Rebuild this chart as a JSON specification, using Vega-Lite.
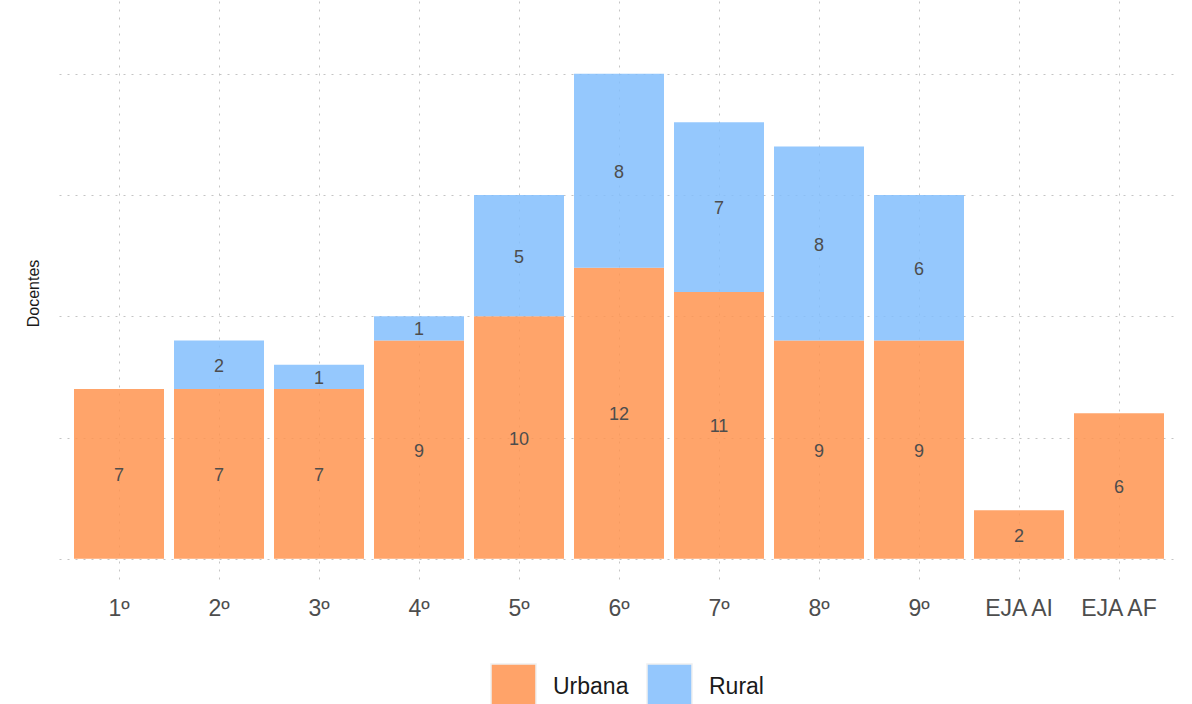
{
  "$schema": "https://vega.github.io/schema/vega-lite/v6.json",
  "width": 1120,
  "height": 582,
  "autosize": {"type": "none"},
  "padding": {"left": 59, "top": 1, "right": 13, "bottom": 121},
  "background": "white",
  "config": {
    "view": {"stroke": null},
    "font": "Liberation Sans"
  },
  "data": {
    "values": [
      {"serie": "1º", "tipo": "Urbana", "valor": 7},
      {"serie": "2º", "tipo": "Urbana", "valor": 7},
      {"serie": "2º", "tipo": "Rural", "valor": 2},
      {"serie": "3º", "tipo": "Urbana", "valor": 7},
      {"serie": "3º", "tipo": "Rural", "valor": 1},
      {"serie": "4º", "tipo": "Urbana", "valor": 9},
      {"serie": "4º", "tipo": "Rural", "valor": 1},
      {"serie": "5º", "tipo": "Urbana", "valor": 10},
      {"serie": "5º", "tipo": "Rural", "valor": 5},
      {"serie": "6º", "tipo": "Urbana", "valor": 12},
      {"serie": "6º", "tipo": "Rural", "valor": 8},
      {"serie": "7º", "tipo": "Urbana", "valor": 11},
      {"serie": "7º", "tipo": "Rural", "valor": 7},
      {"serie": "8º", "tipo": "Urbana", "valor": 9},
      {"serie": "8º", "tipo": "Rural", "valor": 8},
      {"serie": "9º", "tipo": "Urbana", "valor": 9},
      {"serie": "9º", "tipo": "Rural", "valor": 6},
      {"serie": "EJA AI", "tipo": "Urbana", "valor": 2},
      {"serie": "EJA AF", "tipo": "Urbana", "valor": 6}
    ]
  },
  "transform": [
    {"stack": "valor", "groupby": ["serie"], "sort": [{"field": "tipo", "order": "descending"}], "as": ["y0", "y1"]},
    {"calculate": "(datum.y0 + datum.y1) / 2", "as": "mid"}
  ],
  "encoding": {
    "x": {
      "field": "serie",
      "type": "nominal",
      "sort": ["1º", "2º", "3º", "4º", "5º", "6º", "7º", "8º", "9º", "EJA AI", "EJA AF"],
      "scale": {"paddingInner": 0.1, "paddingOuter": 0.15},
      "axis": {
        "title": null,
        "domain": false,
        "ticks": false,
        "labelAngle": 0,
        "labelFontSize": 23,
        "labelColor": "#4d4d4d",
        "labelPadding": 14,
        "grid": true,
        "bandPosition": 0.5,
        "gridColor": "#c4c4c4",
        "gridDash": [2, 6],
        "gridWidth": 1
      }
    }
  },
  "layer": [
    {
      "mark": {"type": "bar", "opacity": 0.85},
      "encoding": {
        "y": {
          "field": "y0",
          "type": "quantitative",
          "scale": {"domain": [-1, 23], "nice": false, "zero": false},
          "axis": {
            "title": "Docentes",
            "titleFontSize": 16,
            "titleFontWeight": "normal",
            "titleColor": "#1a1a1a",
            "titleX": -26,
            "titleY": 292,
            "titleAngle": -90,
            "titleAlign": "center",
            "titleBaseline": "middle",
            "labels": false,
            "ticks": false,
            "domain": false,
            "values": [0, 5, 10, 15, 20],
            "grid": true,
            "gridColor": "#c4c4c4",
            "gridDash": [2, 6],
            "gridWidth": 1
          }
        },
        "y2": {"field": "y1"},
        "color": {
          "field": "tipo",
          "type": "nominal",
          "scale": {"domain": ["Urbana", "Rural"], "range": ["#FF9450", "#82BEFD"]},
          "legend": {
            "title": null,
            "orient": "none",
            "direction": "horizontal",
            "legendX": 431,
            "legendY": 662,
            "padding": 0,
            "symbolType": "square",
            "symbolSize": 2025,
            "symbolStrokeColor": "#eeeeee",
            "symbolStrokeWidth": 1.5,
            "symbolOpacity": 0.85,
            "labelFontSize": 23,
            "labelColor": "#1a1a1a",
            "labelOffset": 16,
            "columnPadding": 15
          }
        }
      }
    },
    {
      "mark": {"type": "text", "fontSize": 18, "color": "#4d4d4d", "baseline": "middle", "align": "center", "dy": 2},
      "encoding": {
        "y": {"field": "mid", "type": "quantitative"},
        "text": {"field": "valor", "type": "quantitative"}
      }
    }
  ]
}
